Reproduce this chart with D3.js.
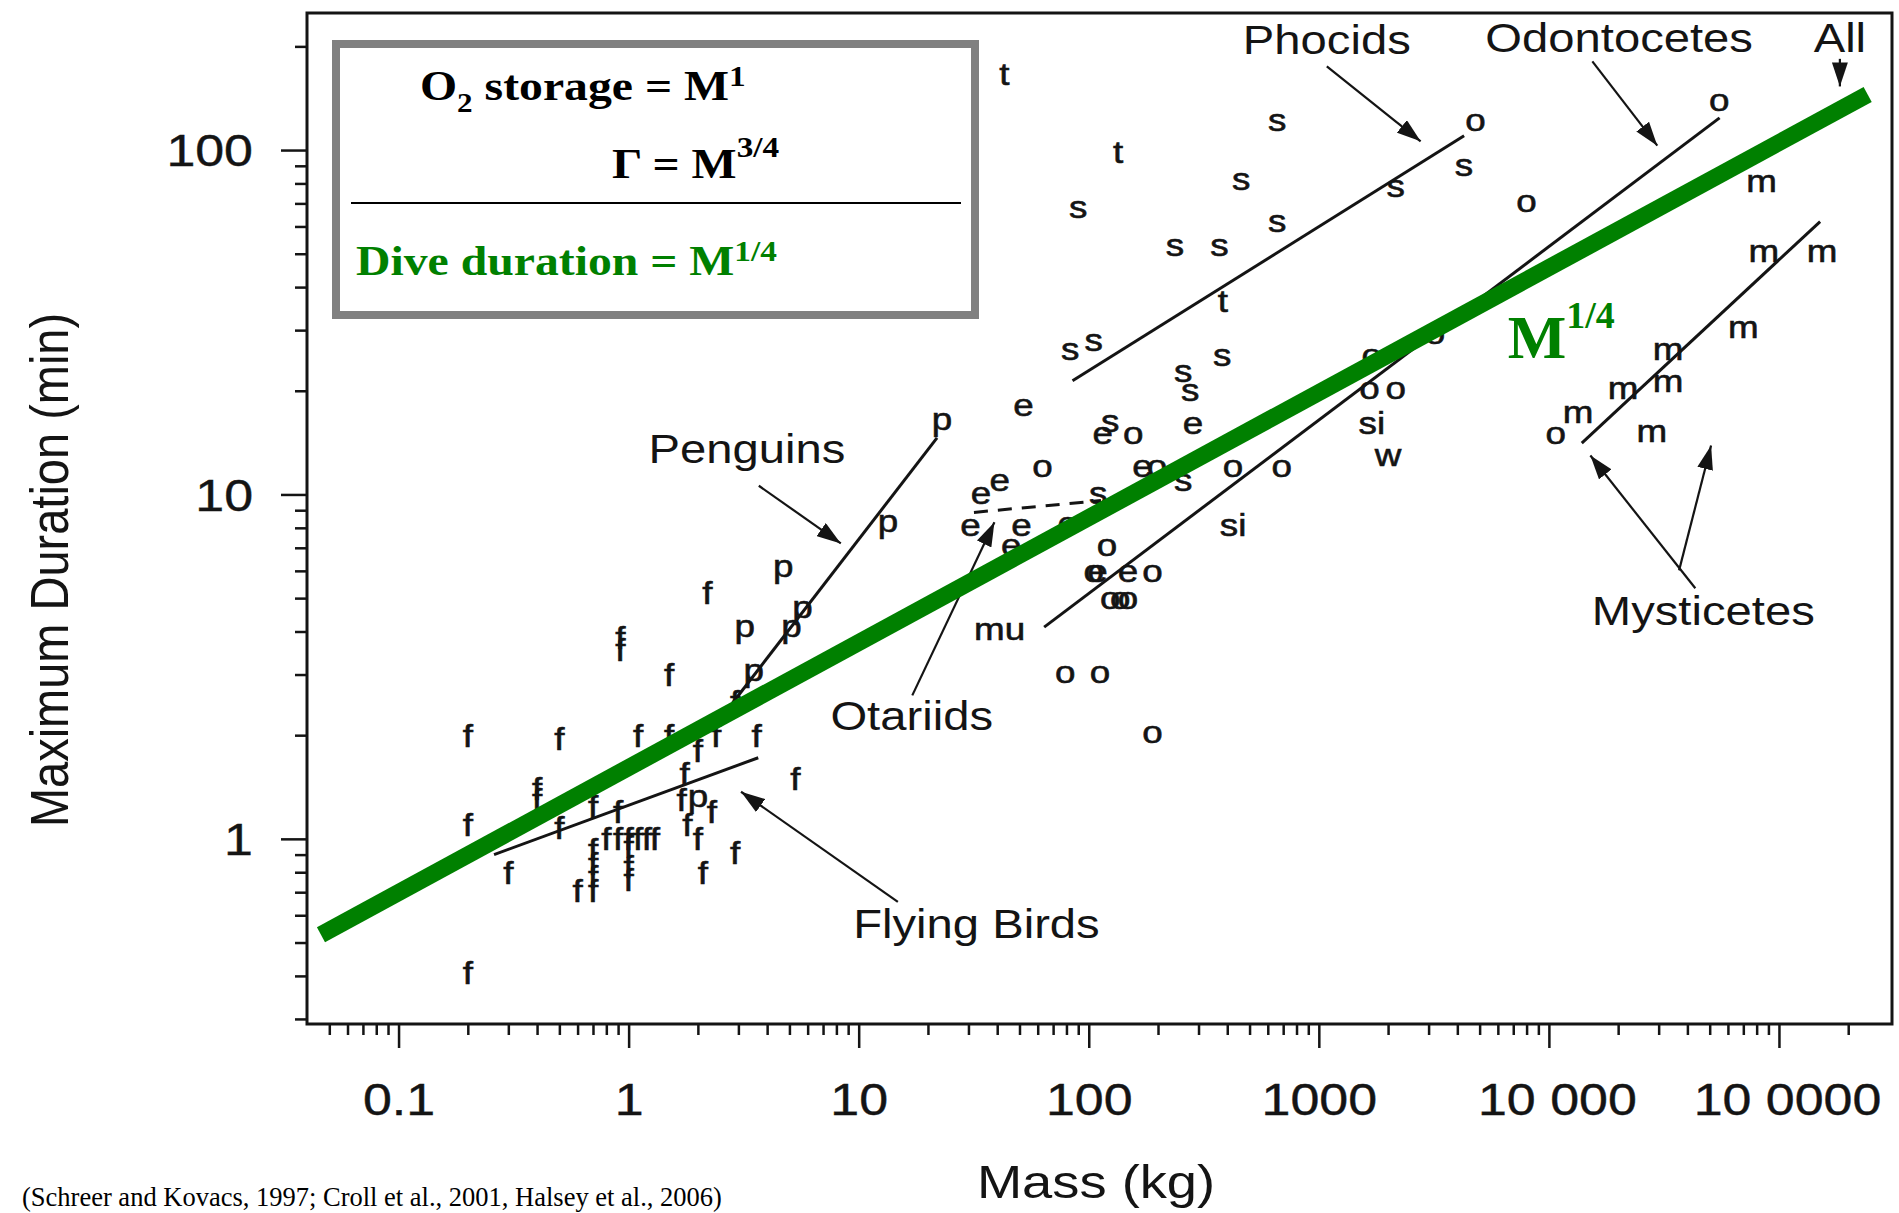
<!DOCTYPE html>
<html>
<head>
<meta charset="utf-8">
<script src="https://cdn.jsdelivr.net/npm/d3@7"></script>
<style>
  html, body { margin: 0; padding: 0; background: #fff; }
  svg { display: block; }
</style>
</head>
<body>
<svg id="chart" width="1899" height="1213"></svg>
<script>
// ---- data: [mass (kg), max duration (min)] ----
const flyingBirds = [
  [0.2, 2.0], [0.5, 1.95], [1.1, 2.0], [1.5, 2.0], [2.4, 2.0], [3.6, 2.0], [5.3, 1.5],
  [0.2, 1.1], [0.4, 1.4], [0.4, 1.3], [0.5, 1.08], [0.7, 1.24], [0.9, 1.2], [0.3, 0.8],
  [1.75, 1.55], [2.0, 1.8], [1.7, 1.3], [2.3, 1.2], [1.8, 1.1],
  [0.8, 1.0], [0.9, 1.0], [1.0, 1.0], [1.1, 1.0], [1.2, 1.0], [1.3, 1.0],
  [0.7, 0.93], [0.7, 0.85], [0.7, 0.78], [0.7, 0.71], [0.6, 0.71],
  [1.0, 0.95], [1.0, 0.83], [1.0, 0.76],
  [2.0, 1.0], [2.1, 0.8], [2.9, 0.91], [0.2, 0.41],
  [2.2, 5.2], [0.92, 3.85], [0.92, 3.55], [1.5, 3.0], [2.9, 2.5]
];
const penguins = [[23, 15.8], [13.4, 8.0], [4.7, 5.9], [3.2, 3.95], [5.7, 4.5], [5.1, 3.95], [3.5, 2.95], [2.0, 1.27]];
const otariids = [[52, 17.9], [115, 14.8], [284, 15.8], [34, 9.9], [41, 10.8], [171, 11.9], [30.6, 8.0],
  [51, 8.0], [46, 7.0], [81, 8.1], [109, 5.9], [148, 5.9]];
const phocids = [[124, 16], [257, 22.4], [276, 19.8], [257, 10.8], [110, 9.9], [660, 120], [460, 81], [90, 67],
  [660, 61], [237, 52], [370, 52], [83, 26], [105, 27.6], [380, 25], [2160, 77], [4270, 89]];
const turtles = [[43, 167], [134, 99], [383, 36.5]];
const odontocetes = [[156, 14.8], [63, 11.9], [198, 11.9], [120, 7.0], [189, 5.9], [105, 5.9], [124, 4.9],
  [137, 4.9], [148, 4.9], [79, 3.0], [112, 3.0], [189, 2.0], [424, 11.9], [690, 11.9], [4800, 120],
  [55000, 137], [8000, 70], [1660, 20], [2160, 20], [3200, 29], [1700, 25], [10700, 14.8]];
const sirenians = [[1700, 16], [424, 8.1]];
const walrus = [[2000, 12.8]];
const mustelids = [[41, 4.0]];
const mysticetes = [[84000, 80], [86000, 50], [154000, 50], [70000, 30], [33000, 26], [21000, 20],
  [33000, 21], [13400, 17], [28000, 15]];

// fitted lines (end points)
const birdFit = [[0.26, 0.90], [3.66, 1.72]];
const penguinFit = [[2.83, 2.48], [21.9, 14.6]];
const phocidFit = [[85, 21.4], [4280, 110]];
const odontoceteFit = [[64, 4.12], [55200, 124]];
const mysticeteFit = [[13900, 14.1], [151000, 62]];
const otariidFit = [[31.7, 8.87], [113, 9.6]];
const allFit = [[0.046, 0.527], [243000, 145]];

// axis ticks
const xTicksMajor = [0.1, 1, 10, 100, 1000, 10000, 100000];
const xTickLabels = ['0.1', '1', '10', '100', '1000', '10 000', '10 0000'];
const yTicksMajor = [1, 10, 100];
const yTickLabels = ['1', '10', '100'];

// group labels with arrows: label position, arrow tail, arrow tip
const groupLabels = [
  { text: 'Phocids', at: [1083, 190], arrows: [[[1083, 175], [2770, 106]]] },
  { text: 'Odontocetes', at: [20200, 192], arrows: [[[15450, 181], [29600, 103]]] },
  { text: 'All', at: [184000, 192], arrows: [[[184000, 184], [184000, 153]]] },
  { text: 'Penguins', at: [3.27, 12.3], arrows: [[[3.68, 10.6], [8.36, 7.21]]] },
  { text: 'Otariids', at: [17.0, 2.07], arrows: [[[17.1, 2.61], [38.9, 8.3]]] },
  { text: 'Flying Birds', at: [32.5, 0.516], arrows: [[[14.8, 0.656], [3.08, 1.37]]] },
  { text: 'Mysticetes', at: [46900, 4.17], arrows: [[[43300, 5.34], [15150, 12.97]], [[36800, 6.02], [50700, 13.87]]] }
];

const SANS = '"Liberation Sans", Arial, Helvetica, sans-serif';
const SERIF = '"Liberation Serif", "Times New Roman", serif';
const GREEN = '#008000';
const INK = '#141414';

const svg = d3.select('#chart');

const x = d3.scaleLog().domain([0.04, 310000]).range([307, 1892]);
const y = d3.scaleLog().domain([0.29, 250]).range([1024, 13]);

const defs = svg.append('defs');
defs.append('marker')
  .attr('id', 'head')
  .attr('viewBox', '0 0 24 16')
  .attr('refX', 24).attr('refY', 8)
  .attr('markerWidth', 24).attr('markerHeight', 16)
  .attr('markerUnits', 'userSpaceOnUse')
  .attr('orient', 'auto')
  .append('path').attr('d', 'M0,0 L24,8 L0,16 Z').attr('fill', INK);

// ---- axes ----
function minorTicks(lo, hi) {
  const out = [];
  for (let d = lo; d <= hi; d *= 10) {
    for (let k = 2; k <= 9; k++) out.push(+(k * d).toPrecision(3));
  }
  return out;
}
const xMinor = minorTicks(0.01, 100000).filter(v => v >= 0.05 && v <= 200000);
const yMinor = minorTicks(0.1, 100).filter(v => v >= 0.3 && v <= 200);

const xMinorAxis = svg.append('g').attr('transform', 'translate(0,1024)')
  .call(d3.axisBottom(x).tickValues(xMinor).tickSize(11).tickFormat(''));
const xMajorAxis = svg.append('g').attr('transform', 'translate(0,1024)')
  .call(d3.axisBottom(x).tickValues(xTicksMajor).tickSize(24)
    .tickFormat((d, i) => xTickLabels[i]));
const yMinorAxis = svg.append('g').attr('transform', 'translate(307,0)')
  .call(d3.axisLeft(y).tickValues(yMinor).tickSize(12).tickFormat(''));
const yMajorAxis = svg.append('g').attr('transform', 'translate(307,0)')
  .call(d3.axisLeft(y).tickValues(yTicksMajor).tickSize(26)
    .tickFormat((d, i) => yTickLabels[i]));

[xMinorAxis, xMajorAxis, yMinorAxis, yMajorAxis].forEach(g => {
  g.select('.domain').remove();
  g.selectAll('line').attr('stroke', INK).attr('stroke-width', 2.5);
});
xMajorAxis.selectAll('text')
  .attr('y', 0).attr('dy', 0)
  .attr('transform', (d, i) => `translate(${i >= 5 ? 8 : 0},91) scale(1.18,1)`)
  .attr('font-family', SANS).attr('font-size', 44).attr('fill', INK)
  .attr('stroke', INK).attr('stroke-width', 0.4);
yMajorAxis.selectAll('text')
  .attr('x', 0).attr('dy', '0.36em')
  .attr('transform', 'translate(-54,0) scale(1.18,1)')
  .attr('font-family', SANS).attr('font-size', 44).attr('fill', INK)
  .attr('stroke', INK).attr('stroke-width', 0.4);

// frame
svg.append('path')
  .attr('d', `M${x.range()[0]},${y.range()[0]} V${y.range()[1]} H${x.range()[1]} V${y.range()[0]} Z`)
  .attr('fill', 'none').attr('stroke', INK).attr('stroke-width', 3);

// axis titles
svg.append('text')
  .attr('transform', 'translate(1096,1198) scale(1.18,1)')
  .attr('text-anchor', 'middle')
  .attr('font-family', SANS).attr('font-size', 46).attr('fill', INK)
  .text('Mass (kg)');
svg.append('text')
  .attr('transform', 'translate(68,570) rotate(-90) scale(1,1.15)')
  .attr('text-anchor', 'middle')
  .attr('font-family', SANS).attr('font-size', 47).attr('fill', INK)
  .text('Maximum Duration (min)');

// citation
svg.append('text')
  .attr('x', 22).attr('y', 1206)
  .attr('font-family', SERIF).attr('font-size', 26.5).attr('fill', '#000')
  .text('(Schreer and Kovacs, 1997; Croll et al., 2001, Halsey et al., 2006)');

// ---- fitted group lines ----
const line = d3.line().x(d => x(d[0])).y(d => y(d[1]));
[birdFit, penguinFit, phocidFit, odontoceteFit, mysticeteFit].forEach(f => {
  svg.append('path').attr('d', line(f))
    .attr('fill', 'none').attr('stroke', INK).attr('stroke-width', 3);
});
svg.append('path').attr('d', line(otariidFit))
  .attr('fill', 'none').attr('stroke', INK).attr('stroke-width', 3)
  .attr('stroke-dasharray', '14,10');

// ---- letter symbols ----
const groups = [
  { code: 'f', pts: flyingBirds },
  { code: 'p', pts: penguins },
  { code: 'e', pts: otariids },
  { code: 's', pts: phocids },
  { code: 't', pts: turtles },
  { code: 'o', pts: odontocetes },
  { code: 'si', pts: sirenians },
  { code: 'w', pts: walrus },
  { code: 'mu', pts: mustelids },
  { code: 'm', pts: mysticetes }
];
const letterDy = { f: '0.36em', t: '0.36em', p: '0.12em', si: '0.32em' };

groups.forEach(g => {
  svg.append('g').selectAll('text')
    .data(g.pts)
    .join('text')
    .attr('transform', d => `translate(${x(d[0])},${y(d[1])}) scale(1.15,1)`)
    .attr('dy', letterDy[g.code] || '0.26em')
    .attr('text-anchor', 'middle')
    .attr('font-family', SANS).attr('font-size', 32).attr('fill', INK)
    .attr('stroke', INK).attr('stroke-width', 0.6)
    .text(g.code);
});

// ---- group labels and arrows ----
groupLabels.forEach(l => {
  svg.append('text')
    .attr('transform', `translate(${x(l.at[0])},${y(l.at[1])}) scale(1.18,1)`)
    .attr('text-anchor', 'middle')
    .attr('font-family', SANS).attr('font-size', 40).attr('fill', INK)
    .text(l.text);
  l.arrows.forEach(a => {
    svg.append('path').attr('d', line(a))
      .attr('fill', 'none').attr('stroke', INK).attr('stroke-width', 2.2)
      .attr('marker-end', 'url(#head)');
  });
});

// ---- overall M^1/4 line ----
svg.append('path').attr('d', line(allFit))
  .attr('fill', 'none').attr('stroke', GREEN).attr('stroke-width', 17)
  .attr('stroke-linecap', 'butt');

const mLabel = svg.append('text')
  .attr('x', x(6620)).attr('y', y(24.9))
  .attr('font-family', SERIF).attr('font-weight', 'bold').attr('fill', GREEN);
mLabel.append('tspan').attr('font-size', 62).text('M');
mLabel.append('tspan').attr('font-size', 38).attr('dy', -30).text('1/4');

// ---- formula box ----
const box = svg.append('g');
box.append('rect')
  .attr('x', 336).attr('y', 44).attr('width', 639).attr('height', 271)
  .attr('fill', '#fff').attr('stroke', '#808080').attr('stroke-width', 8);
box.append('line')
  .attr('x1', 351).attr('x2', 961).attr('y1', 203).attr('y2', 203)
  .attr('stroke', '#000').attr('stroke-width', 2);

function formula(px, py, parts, color) {
  const t = box.append('text')
    .attr('transform', `translate(${px},${py}) scale(1.11,1)`)
    .attr('font-family', SERIF).attr('font-weight', 'bold')
    .attr('font-size', 43).attr('fill', color);
  parts.forEach(p => {
    t.append('tspan').attr('font-size', p.size || 43).attr('dy', p.dy || 0).text(p.s);
  });
}
formula(420, 100, [
  { s: 'O' }, { s: '2', size: 28, dy: 12 }, { s: ' storage = M', dy: -12 }, { s: '1', size: 30, dy: -14 }
], '#000');
formula(612, 178, [{ s: 'Γ = M' }, { s: '3/4', size: 30, dy: -21 }], '#000');
formula(356, 275, [{ s: 'Dive duration = M' }, { s: '1/4', size: 30, dy: -14 }], GREEN);
</script>
</body>
</html>
